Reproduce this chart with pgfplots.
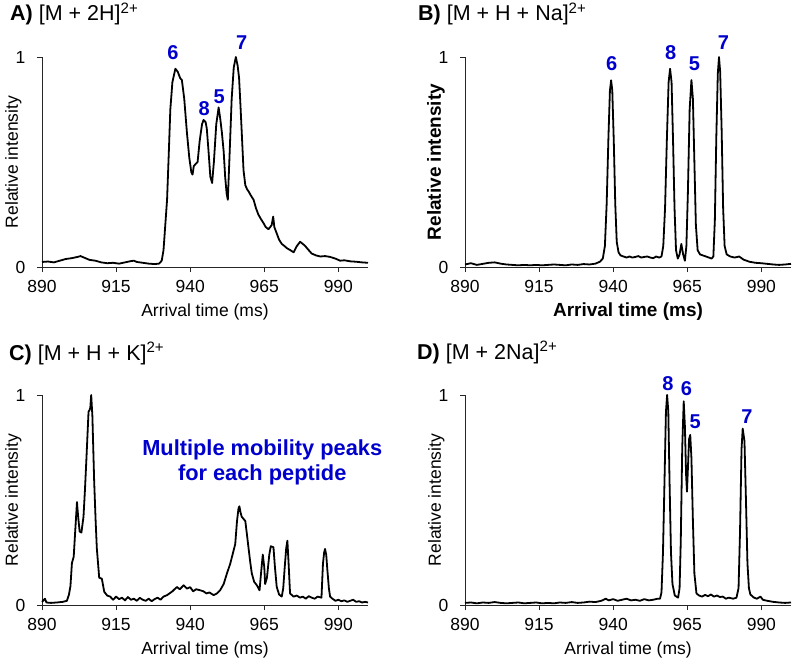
\documentclass[border=0pt]{standalone}
\usepackage{fontspec}
\setmainfont{Liberation Sans}
\usepackage{pgfplots}
\pgfplotsset{compat=1.18}
\definecolor{pkblue}{RGB}{0,0,204}

\pgfplotsset{
  panel/.style={
    scale only axis, width=326pt, height=210pt,
    xmin=890, xmax=1000, ymin=0, ymax=1,
    axis x line=bottom, axis y line=left,
    axis line style={-, line width=0.8pt, black!85},
    xtick={890,915,...,990}, ytick={0,1},
    tick align=outside, major tick length=5pt,
    tick style={line width=0.8pt, black!85},
    ticklabel style={font=\fontsize{17.5}{20}\selectfont},
    xticklabel style={yshift=-5pt},
    yticklabel style={xshift=-8pt},
    /pgf/number format/assume math mode=true,
    /pgf/number format/set thousands separator={},
    clip=false,
    xlabel={Arrival time (ms)}, ylabel={Relative intensity},
    label style={font=\fontsize{17.5}{20}\selectfont},
    xlabel style={at={(axis description cs:0.5,-0.238)}, anchor=base},
    ylabel style={at={(axis description cs:-0.074,0.5)}, anchor=base},
  },
  trace/.style={black, line width=1.8pt, no markers, line join=round},
}
\tikzset{
  pk/.style={font=\bfseries\fontsize{20}{23}\selectfont, text=pkblue, inner sep=0pt},
  ttl/.style={anchor=base west, font=\fontsize{21.5}{25}\selectfont, inner sep=0pt},
}

\begin{document}
\begin{tikzpicture}
\path[use as bounding box] (0,0) rectangle (800pt,665pt);

% ---------- A) [M + 2H]2+
\begin{axis}[panel, anchor=south west, at={(42pt,398pt)}]
\addplot[trace] coordinates {
(890,0.024)(892,0.026)(894,0.022)(896,0.030)(898,0.038)(900,0.042)(902,0.048)
(903,0.052)(904,0.046)(906,0.034)(908,0.030)(910,0.022)(912,0.018)(914,0.020)
(916,0.016)(918,0.022)(920,0.028)(921,0.030)(922,0.024)(924,0.020)(926,0.016)
(928,0.014)(929.5,0.016)(930.4,0.030)(931,0.08)(931.5,0.18)(932.2,0.32)
(932.8,0.55)(933.3,0.75)(934,0.88)(935,0.944)(935.8,0.93)(936.6,0.90)
(937.2,0.89)(938,0.80)(938.9,0.64)(939.7,0.52)(940.4,0.45)(940.8,0.44)
(941.2,0.48)(941.8,0.49)(942.5,0.50)(943.2,0.60)(944,0.68)(944.5,0.70)
(945.2,0.69)(945.6,0.66)(946.2,0.55)(946.8,0.43)(947.4,0.40)(948,0.50)
(948.8,0.68)(949.6,0.76)(950.2,0.70)(950.7,0.64)(951.3,0.55)(951.8,0.43)
(952.3,0.35)(952.7,0.32)(953.2,0.50)(954,0.80)(954.7,0.95)(955.4,1.00)
(956,0.96)(956.5,0.90)(957,0.76)(957.4,0.64)(958,0.46)(958.6,0.39)
(959.2,0.37)(959.7,0.36)(960.5,0.34)(961.4,0.32)(962.2,0.28)(963,0.25)
(963.8,0.23)(964.7,0.21)(965.5,0.19)(966.4,0.18)(967,0.19)(967.5,0.20)
(968,0.24)(968.4,0.19)(969.2,0.16)(970,0.13)(970.9,0.11)(971.8,0.10)
(972.6,0.09)(973.8,0.08)(974.9,0.07)(976,0.10)(977.1,0.12)(978,0.11)
(978.8,0.10)(980,0.08)(981,0.064)(982.5,0.055)(983.9,0.05)(985.5,0.052)
(987.2,0.048)(989,0.04)(990.6,0.03)(992,0.032)(994,0.027)(996,0.025)
(998,0.022)(1000,0.02)
};
\node[pk] at (axis cs:934.2,1.02) {6};
\node[pk] at (axis cs:944.7,0.756) {8};
\node[pk] at (axis cs:949.8,0.81) {5};
\node[pk] at (axis cs:957.4,1.07) {7};
\end{axis}

% ---------- B) [M + H + Na]2+
\begin{axis}[panel, anchor=south west, at={(465pt,398pt)},
  label style={font=\bfseries\fontsize{19}{22}\selectfont}]
\addplot[trace] coordinates {
(890,0.012)(892,0.018)(894,0.010)(896,0.015)(898,0.020)(900,0.022)(902,0.016)
(904,0.012)(906,0.010)(908,0.008)(910,0.010)(912,0.008)(914,0.010)(916,0.008)
(918,0.010)(920,0.012)(922,0.010)(924,0.008)(926,0.012)(928,0.010)(930,0.014)
(932,0.012)(934,0.016)(935.5,0.025)(936.5,0.04)(937.2,0.10)(937.8,0.30)
(938.4,0.62)(938.9,0.84)(939.3,0.889)(939.7,0.84)(940.2,0.60)(940.7,0.30)
(941.2,0.12)(941.8,0.07)(942.5,0.055)(943.5,0.05)(944.5,0.045)(945.5,0.05)
(946.5,0.045)(947.5,0.048)(948.5,0.052)(949.5,0.045)(950.5,0.048)(951.5,0.050)
(952.5,0.045)(953.5,0.042)(954.5,0.05)(955.5,0.045)(956.3,0.05)(956.9,0.10)
(957.5,0.28)(958.1,0.60)(958.7,0.88)(959.2,0.944)(959.7,0.88)(960.2,0.60)
(960.7,0.28)(961.2,0.08)(961.8,0.04)(962.4,0.06)(963,0.11)(963.6,0.06)
(964.2,0.03)(964.7,0.10)(965.2,0.35)(965.8,0.75)(966.4,0.89)(966.9,0.80)
(967.4,0.50)(967.9,0.20)(968.5,0.08)(969.3,0.06)(970.3,0.055)(971.3,0.05)
(972.3,0.045)(973.2,0.04)(973.8,0.05)(974.3,0.22)(974.8,0.62)(975.3,0.92)
(975.7,1.00)(976.1,0.93)(976.6,0.65)(977.1,0.28)(977.6,0.10)(978.3,0.06)
(979.5,0.05)(981,0.045)(982.5,0.05)(984,0.035)(986,0.025)(988,0.020)
(990,0.018)(992,0.015)(994,0.012)(996,0.010)(998,0.012)(1000,0.015)
};
\node[pk] at (axis cs:939.5,0.968) {6};
\node[pk] at (axis cs:959.4,1.02) {8};
\node[pk] at (axis cs:967.4,0.968) {5};
\node[pk] at (axis cs:977.2,1.07) {7};
\end{axis}

% ---------- C) [M + H + K]2+
\begin{axis}[panel, anchor=south west, at={(42pt,60pt)}]
\addplot[trace] coordinates {
(890,0.015)(891,0.030)(891.5,0.012)(893,0.010)(895,0.012)(897,0.015)
(898.4,0.020)(899.1,0.05)(899.6,0.09)(900.1,0.20)(900.7,0.23)(901.2,0.35)
(901.8,0.49)(902.2,0.42)(902.7,0.35)(903.3,0.345)(904,0.42)(904.5,0.55)
(905,0.70)(905.7,0.92)(906.1,0.93)(906.3,0.94)(906.6,1.0)(907,0.90)
(907.6,0.59)(908.1,0.40)(908.5,0.27)(909.3,0.13)(910.2,0.125)(911,0.063)
(912,0.045)(913,0.04)(914,0.025)(915,0.040)(916,0.028)(917,0.035)(918,0.022)
(919,0.038)(920,0.025)(921,0.030)(922,0.020)(923,0.034)(924,0.025)(925,0.020)
(926,0.030)(927,0.018)(928,0.028)(929,0.035)(930,0.025)(931,0.040)
(932.2,0.047)(933,0.055)(934,0.065)(935.5,0.086)(936.5,0.075)(937.8,0.094)
(938.9,0.078)(940,0.085)(941,0.065)(942,0.075)(943.4,0.07)(944.5,0.065)
(945.5,0.055)(946.5,0.06)(947.9,0.047)(949,0.055)(950.1,0.07)(951.3,0.10)
(952.4,0.15)(953.5,0.196)(954.3,0.24)(955.2,0.29)(955.8,0.40)(956.3,0.46)
(956.6,0.47)(957,0.44)(957.4,0.42)(958,0.41)(958.6,0.40)(959.2,0.33)
(959.7,0.27)(960.3,0.20)(960.8,0.15)(961.6,0.11)(962.5,0.094)(963.4,0.07)
(963.9,0.15)(964.5,0.24)(965,0.18)(965.3,0.10)(965.9,0.13)(966.7,0.24)
(967.2,0.28)(968.1,0.275)(968.6,0.18)(969.2,0.086)(970,0.05)(970.9,0.04)
(971.4,0.08)(971.9,0.18)(972.4,0.27)(972.8,0.306)(973.2,0.20)(973.7,0.055)
(974.9,0.04)(976,0.045)(977,0.035)(978,0.040)(979,0.030)(980,0.042)
(981,0.035)(982,0.030)(983,0.040)(984.3,0.035)(984.8,0.196)(985.2,0.25)
(985.5,0.267)(985.9,0.24)(986.3,0.165)(986.8,0.08)(987.2,0.04)(988,0.030)
(989,0.020)(990,0.025)(991,0.018)(992,0.022)(993,0.015)(994,0.020)
(995,0.025)(996,0.015)(997,0.018)(998,0.012)(999,0.015)(1000,0.012)
};
\node[font=\bfseries\fontsize{21.8}{25}\selectfont, text=pkblue, align=center]
  at (axis cs:964.3,0.68) {Multiple mobility peaks\\for each peptide};
\end{axis}

% ---------- D) [M + 2Na]2+
\begin{axis}[panel, anchor=south west, at={(465pt,60pt)}]
\addplot[trace] coordinates {
(890,0.010)(892,0.012)(894,0.008)(896,0.012)(898,0.010)(900,0.014)(902,0.010)
(904,0.008)(906,0.010)(908,0.012)(910,0.008)(912,0.010)(914,0.012)(916,0.008)
(918,0.010)(920,0.008)(922,0.012)(924,0.010)(926,0.014)(928,0.010)(930,0.012)
(932,0.016)(934,0.014)(936,0.020)(937.5,0.030)(938.5,0.022)(940,0.028)
(941.5,0.020)(943,0.025)(944.5,0.030)(946,0.022)(947.5,0.025)(949,0.020)
(950.5,0.028)(952,0.022)(953.5,0.025)(955,0.030)(955.8,0.030)(956.3,0.06)
(956.8,0.25)(957.3,0.58)(957.8,0.92)(958.2,1.00)(958.6,0.92)(959,0.60)
(959.5,0.25)(960,0.10)(960.8,0.045)(961.9,0.035)(962.4,0.08)(962.8,0.30)
(963.3,0.75)(963.8,0.97)(964.2,0.85)(964.6,0.62)(964.9,0.54)(965.3,0.68)
(965.6,0.79)(966,0.81)(966.4,0.70)(966.9,0.40)(967.4,0.15)(968.1,0.055)
(969,0.045)(970,0.040)(971,0.048)(972,0.042)(973,0.050)(974,0.040)(975,0.045)
(976,0.038)(977,0.040)(978,0.030)(979,0.035)(980.5,0.030)(981.6,0.035)
(982.3,0.08)(982.8,0.35)(983.3,0.74)(983.7,0.84)(984.3,0.78)(984.8,0.50)
(985.3,0.20)(985.8,0.08)(986.3,0.05)(987.5,0.035)(988.5,0.030)(989.7,0.040)
(990.5,0.025)(992,0.020)(994,0.015)(996,0.012)(998,0.010)(1000,0.012)
};
\node[pk] at (axis cs:958.5,1.052) {8};
\node[pk] at (axis cs:964.7,1.03) {6};
\node[pk] at (axis cs:967.7,0.874) {5};
\node[pk] at (axis cs:985.1,0.895) {7};
\end{axis}

% panel titles
\node[ttl] at (10pt,644pt) {\textbf{A)} [M + 2H]\textsuperscript{2+}};
\node[ttl] at (418pt,644pt) {\textbf{B)} [M + H + Na]\textsuperscript{2+}};
\node[ttl] at (9pt,305pt) {\textbf{C)} [M + H + K]\textsuperscript{2+}};
\node[ttl] at (417pt,306pt) {\textbf{D)} [M + 2Na]\textsuperscript{2+}};
\end{tikzpicture}
\end{document}
